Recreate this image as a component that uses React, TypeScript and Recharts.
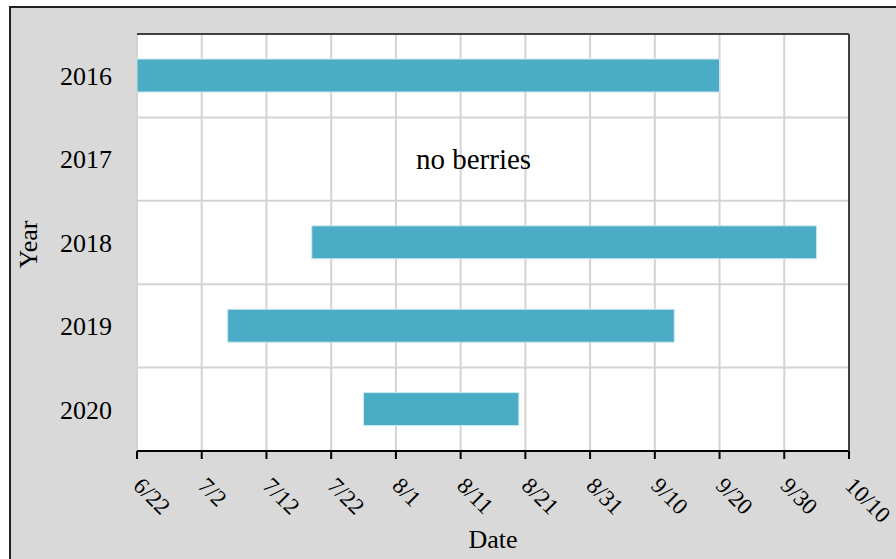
import React from "react";
import {
  ComposedChart,
  Bar,
  XAxis,
  YAxis,
  CartesianGrid,
  ReferenceDot,
  Label
} from "recharts";

const YEARS = ["2016", "2017", "2018", "2019", "2020"];
// days after 6/22
const START_DAY = [0, null, 27, 14, 35];
const END_DAY = [90, null, 105, 83, 59];
const X_TICKS = [0, 10, 20, 30, 40, 50, 60, 70, 80, 90, 100, 110];
const NOTE_YEAR = "2017";
const NOTE_DAY = 52;
const NOTE_TEXT = "no berries";

const FONT = "Liberation Serif, Times New Roman, serif";

const data = YEARS.map((year, i) => ({
  year,
  range: START_DAY[i] == null ? null : [START_DAY[i], END_DAY[i]]
}));

const dayLabel = (d: number) => {
  const dt = new Date(2021, 5, 22 + d);
  return `${dt.getMonth() + 1}/${dt.getDate()}`;
};

const DateTick = (props: any) => {
  const { x, y, payload } = props;
  const tx = x - 5;
  const ty = y + 26;
  return (
    <text
      x={tx}
      y={ty}
      transform={`rotate(45, ${tx}, ${ty})`}
      textAnchor="start"
      fontSize={23}
      fontFamily={FONT}
      fill="#000"
    >
      {dayLabel(payload.value)}
    </text>
  );
};

export default function App() {
  return (
    <div
      style={{
        position: "fixed",
        left: 0,
        top: 0,
        width: 896,
        height: 559,
        overflow: "hidden",
        background: "#fff"
      }}
    >
      <div
        style={{
          position: "absolute",
          left: 9,
          top: 6,
          width: 900,
          height: 560,
          background: "#d9d9d9",
          borderTop: "2px solid #222",
          borderLeft: "2px solid #222"
        }}
      />
      <div style={{ position: "absolute", left: 0, top: 0 }}>
        <ComposedChart
          width={896}
          height={559}
          data={data}
          layout="vertical"
          margin={{ top: 33, right: 46, bottom: 0, left: 0 }}
          barCategoryGap="30%"
        >
          <CartesianGrid
            fill="#fff"
            stroke="#d3d3d3"
            strokeWidth={2}
            horizontalCoordinatesGenerator={({ offset }: any) =>
              [1, 2, 3, 4].map((i) => offset.top + (offset.height * i) / YEARS.length)
            }
          />
          <XAxis
            type="number"
            dataKey="range"
            domain={[0, 110]}
            ticks={X_TICKS}
            allowDataOverflow
            height={108}
            tickSize={8}
            tickMargin={2}
            tickLine={{ stroke: "#000", strokeWidth: 2 }}
            axisLine={{ stroke: "#000", strokeWidth: 2 }}
            tick={<DateTick />}
            interval={0}
          >
            <Label
              content={({ viewBox }: any) => (
                <text
                  x={viewBox.x + viewBox.width / 2}
                  y={viewBox.y + 97}
                  textAnchor="middle"
                  fontSize={26}
                  fontFamily={FONT}
                  fill="#000"
                >
                  Date
                </text>
              )}
            />
          </XAxis>
          <XAxis
            xAxisId="top"
            orientation="top"
            type="number"
            domain={[0, 110]}
            height={1}
            tick={false}
            tickLine={false}
            axisLine={{ stroke: "#404040", strokeWidth: 2 }}
          />
          <YAxis
            type="category"
            dataKey="year"
            width={137}
            tickLine={false}
            axisLine={false}
            tickSize={20}
            tickMargin={5}
            tick={{ fontSize: 26, fontFamily: FONT, fill: "#000" }}
          >
            <Label
              content={({ viewBox }: any) => {
                const lx = 37;
                const ly = viewBox.y + viewBox.height / 2 + 2;
                return (
                  <text
                    x={lx}
                    y={ly}
                    transform={`rotate(-90, ${lx}, ${ly})`}
                    textAnchor="middle"
                    fontSize={26}
                    fontFamily={FONT}
                    fill="#000"
                  >
                    Year
                  </text>
                );
              }}
            />
          </YAxis>
          <YAxis
            yAxisId="right"
            orientation="right"
            type="category"
            dataKey="year"
            width={1}
            tick={false}
            tickLine={false}
            axisLine={{ stroke: "#404040", strokeWidth: 2 }}
          />
          <Bar
            dataKey="range"
            fill="#4BACC6"
            stroke="#cfe8f0"
            strokeWidth={1}
            isAnimationActive={false}
          />
          <ReferenceDot
            x={NOTE_DAY}
            y={NOTE_YEAR}
            r={0}
            fill="none"
            stroke="none"
            label={{
              value: NOTE_TEXT,
              position: "center",
              fontSize: 29,
              fontFamily: FONT,
              fill: "#000"
            }}
          />
        </ComposedChart>
      </div>
    </div>
  );
}
